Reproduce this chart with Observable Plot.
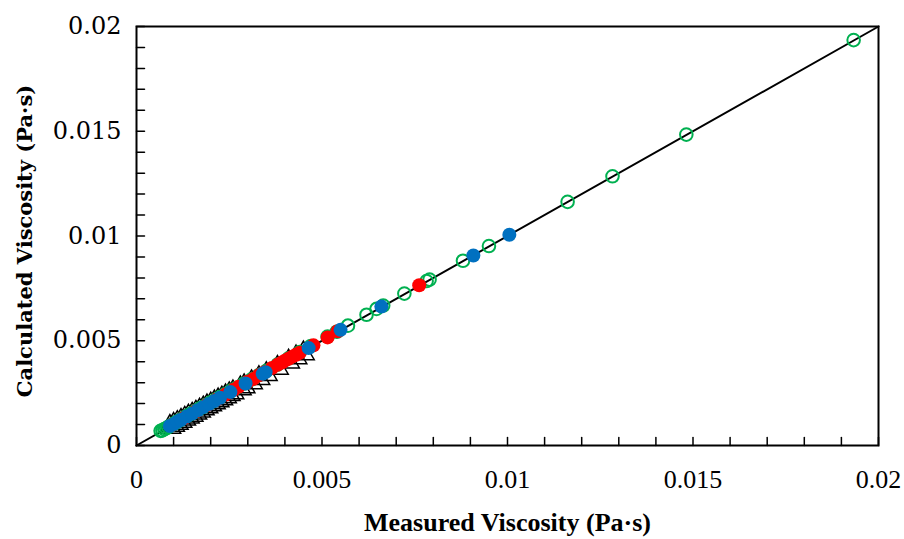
<!DOCTYPE html>
<html><head><meta charset="utf-8">
<script src="https://cdn.jsdelivr.net/npm/d3@7"></script>
<script src="https://cdn.jsdelivr.net/npm/@observablehq/plot@0.6"></script>
<style>body{margin:0;background:#fff}</style>
</head><body><div id="chart"></div>
<script>
// Series: Measured (x) vs Calculated (y) viscosity, Pa·s
const greenX = [0.00065,0.00070,0.00075,0.00080,0.00085,0.00090,0.00095,0.00100,0.00105,0.00110,0.00118,0.00125,0.00132,0.00140,0.00148,0.00155,0.00163,0.00170,0.00180,0.00190,0.00200,0.00212,0.00225,0.00240,0.00255,0.00270,0.00290,0.00310,0.00330,0.00350,0.00380,0.00410,0.00440,0.00470,0.00515,0.00540,0.00570,0.00620,0.00647,0.00665,0.00722,0.00782,0.00790,0.00880,0.00950,0.01162,0.01283,0.01482,0.01933];
const greenY = [0.00070,0.00072,0.00078,0.00082,0.00088,0.00094,0.00098,0.00104,0.00108,0.00114,0.00122,0.00130,0.00137,0.00145,0.00153,0.00160,0.00168,0.00176,0.00185,0.00195,0.00206,0.00218,0.00231,0.00246,0.00262,0.00276,0.00296,0.00316,0.00336,0.00356,0.00386,0.00416,0.00446,0.00475,0.00520,0.00543,0.00572,0.00624,0.00652,0.00668,0.00725,0.00785,0.00792,0.00882,0.00952,0.01163,0.01285,0.01484,0.01935];

const redX = [0.00095,0.00127,0.00160,0.00190,0.00215,0.00240,0.00262,0.00275,0.00300,0.00315,0.00330,0.00345,0.00365,0.00380,0.00392,0.00400,0.00410,0.00420,0.00430,0.00440,0.00477,0.00515,0.00542,0.00762];
const redY = [0.00098,0.00130,0.00163,0.00193,0.00218,0.00243,0.00266,0.00280,0.00304,0.00318,0.00335,0.00350,0.00370,0.00385,0.00396,0.00405,0.00414,0.00424,0.00433,0.00443,0.00478,0.00516,0.00545,0.00765];

const blueX = [0.00090,0.00100,0.00110,0.00120,0.00135,0.00150,0.00165,0.00180,0.00195,0.00210,0.00225,0.00253,0.00294,0.00340,0.00348,0.00464,0.00550,0.00660,0.00908,0.01005];
const blueY = [0.00093,0.00102,0.00113,0.00123,0.00138,0.00152,0.00168,0.00183,0.00198,0.00212,0.00228,0.00255,0.00296,0.00342,0.00350,0.00465,0.00552,0.00663,0.00907,0.01006];

const triX = [0.0009,0.0010,0.0011,0.0012,0.0013,0.0014,0.0015,0.0016,0.0017,0.0018,0.0019,0.0020,0.0021,0.0022,0.0023,0.0024,0.0025,0.0026,0.0028,0.0029,0.0031,0.0033,0.0035,0.0038,0.0041,0.0043,0.0045];
const triY = [0.00088,0.00098,0.00107,0.00117,0.00127,0.00137,0.00146,0.00156,0.00166,0.00176,0.00186,0.00195,0.00205,0.00215,0.00224,0.00234,0.00244,0.00253,0.00272,0.00282,0.00301,0.00321,0.00340,0.00370,0.00400,0.00420,0.00439];

const lineX = [0, 0.02];
const lineY = [0, 0.02];

const majorTicks = [0, 0.005, 0.01, 0.015, 0.02];
const minorTicks = [0,0.001,0.002,0.003,0.004,0.005,0.006,0.007,0.008,0.009,0.01,0.011,0.012,0.013,0.014,0.015,0.016,0.017,0.018,0.019,0.02];

const xTitle = "Measured Viscosity (Pa·s)";
const yTitle = "Calculated Viscosity (Pa·s)";

const pts = (xs, ys) => xs.map((v, i) => ({x: v, y: ys[i]}));
const fmt = d => String(+d.toFixed(3));
const tickShape = {draw(context, l) { context.moveTo(0, 0); context.lineTo(0, -l); }};

const chart = Plot.plot({
  width: 904, height: 539,
  marginLeft: 136, marginRight: 26, marginTop: 26, marginBottom: 94,
  x: {domain: [0, 0.02]},
  y: {domain: [0, 0.02]},
  style: {background: "#fff", overflow: "visible"},
  marks: [
    Plot.line(pts(lineX, lineY), {x: "x", y: "y", stroke: "#000", strokeWidth: 2}),
    Plot.dot(pts(triX, triY), {x: "x", y: "y", symbol: "triangle", r: 8, stroke: "#000", strokeWidth: 1.5, fill: "none"}),
    Plot.dot(pts(greenX, greenY), {x: "x", y: "y", r: 6.3, stroke: "#00B050", strokeWidth: 2, fill: "none"}),
    Plot.dot(pts(redX, redY), {x: "x", y: "y", r: 7, fill: "#FF0000"}),
    Plot.dot(pts(blueX, blueY), {x: "x", y: "y", r: 7, fill: "#0070C0"}),
    Plot.frame({stroke: "#000", strokeWidth: 2}),
    Plot.vector(minorTicks, {x: d => d, y: () => 0, rotate: 0, length: 8, anchor: "start", shape: tickShape, stroke: "#000", strokeWidth: 1.5}),
    Plot.vector(minorTicks, {x: () => 0, y: d => d, rotate: 90, length: 8, anchor: "start", shape: tickShape, stroke: "#000", strokeWidth: 1.5}),
    Plot.axisX({ticks: majorTicks, tickSize: 0, tickPadding: 24, tickFormat: fmt, label: null, fontSize: 26, fontFamily: "Liberation Serif"}),
    Plot.axisY({ticks: majorTicks, tickSize: 0, tickPadding: 15, tickFormat: fmt, label: null, fontSize: 24, fontFamily: "DejaVu Serif"}),
    Plot.text([xTitle], {text: d => d, frameAnchor: "bottom", textAnchor: "middle", lineAnchor: "middle", dy: 77, fontSize: 26, fontWeight: "bold", fontFamily: "Liberation Serif"}),
    Plot.text([yTitle], {text: d => d, frameAnchor: "left", textAnchor: "middle", lineAnchor: "middle", dx: -111, dy: 5, rotate: -90, fontSize: 21, fontWeight: "bold", fontFamily: "DejaVu Serif"})
  ]
});
document.getElementById("chart").appendChild(chart);
</script>
</body></html>
